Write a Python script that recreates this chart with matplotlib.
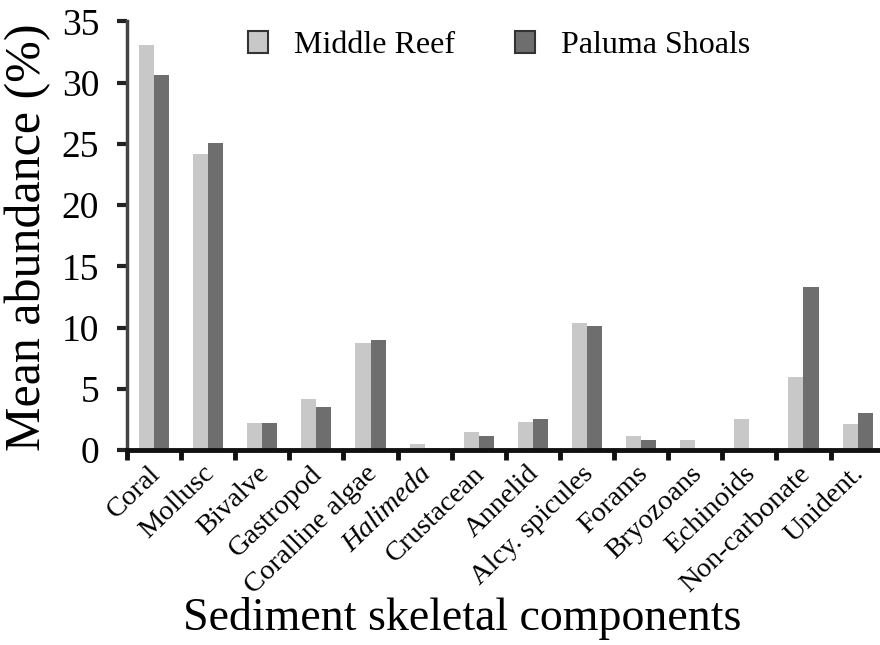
import matplotlib.pyplot as plt
import matplotlib.transforms as mtransforms
import numpy as np

categories = ["Coral", "Mollusc", "Bivalve", "Gastropod", "Coralline algae",
              "Halimeda", "Crustacean", "Annelid", "Alcy. spicules", "Forams",
              "Bryozoans", "Echinoids", "Non-carbonate", "Unident."]
middle_reef = [33.1, 24.2, 2.2, 4.2, 8.7, 0.5, 1.5, 2.3, 10.35, 1.15, 0.8, 2.5, 6.0, 2.15]
paluma_shoals = [30.6, 25.1, 2.2, 3.55, 8.95, 0.15, 1.15, 2.5, 10.15, 0.8, 0.0, 0.0, 13.3, 3.0]
y_ticks = [0, 5, 10, 15, 20, 25, 30, 35]

plt.rcParams["font.family"] = ["Liberation Serif", "DejaVu Serif"]

fig = plt.figure(figsize=(8.8, 6.45), dpi=100)
ax = fig.add_axes([0.1443, 0.3023, 0.861, 0.6644])

x = np.arange(len(categories))
w = 0.278
ax.bar(x - w / 2, middle_reef, w, color="#c8c8c8", label="Middle Reef")
ax.bar(x + w / 2, paluma_shoals, w, color="#6e6e6e", label="Paluma Shoals")

ax.set_xlim(-0.5, len(categories) - 0.5)
ax.set_ylim(0, 35)
ax.set_yticks(y_ticks)
ax.tick_params(axis="y", labelsize=27, length=7, width=3, direction="out",
               color="#222222", pad=13)

# major ticks sit between groups, labels on minor ticks at the centres
ax.set_xticks(np.arange(len(categories)) - 0.5)
ax.set_xticklabels([])
ax.tick_params(axis="x", which="major", length=7, width=3.5, color="#111111")
ax.set_xticks(x, minor=True)
ax.set_xticklabels(categories, minor=True, rotation=44, ha="right",
                   rotation_mode="anchor", fontsize=20.5)
ax.tick_params(axis="x", which="minor", length=0, pad=8)
shift = mtransforms.ScaledTranslation(-6 / 100, 0, fig.dpi_scale_trans)
for lab in ax.get_xticklabels(minor=True):
    lab.set_transform(lab.get_transform() + shift)
    if lab.get_text() == "Halimeda":
        lab.set_fontstyle("italic")

for side in ["top", "right"]:
    ax.spines[side].set_visible(False)
ax.spines["left"].set_linewidth(2.5)
ax.spines["left"].set_color("#444444")
ax.spines["bottom"].set_linewidth(3.5)
ax.spines["bottom"].set_color("#111111")

leg = ax.legend(loc="upper left", bbox_to_anchor=(0.122, 1.045), ncol=2,
                frameon=False, fontsize=23, handlelength=0.62, handleheight=0.68,
                handletextpad=0.8, columnspacing=1.9)
for p in leg.get_patches():
    p.set_edgecolor("#333333")
    p.set_linewidth(1.5)

fig.text(0.032, 0.633, "Mean abundance (%)", rotation=90, fontsize=36,
         ha="center", va="center")
fig.text(0.525, 1 - 619 / 645, "Sediment skeletal components", fontsize=33,
         ha="center", va="center")

fig.savefig("out.png", dpi=100)
